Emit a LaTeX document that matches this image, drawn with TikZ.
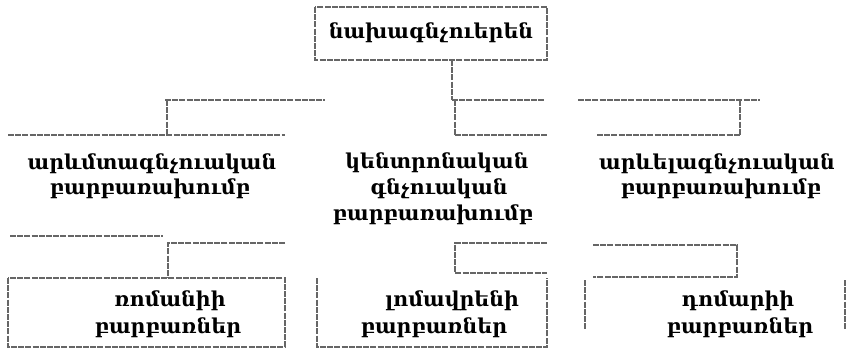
\documentclass[tikz,border=0pt]{standalone}
\usepackage{fontspec}
\setmainfont{DejaVu Serif}
\begin{document}
\begin{tikzpicture}[x=1pt,y=-1pt,
  hl/.style={draw=black!60, line width=2.4pt, dash pattern=on 6pt off 1.2pt},
  lbl/.style={font=\bfseries\fontsize{20.5}{24}\selectfont, inner sep=0pt, anchor=base}]
\useasboundingbox (0,0) rectangle (851,354);
% texts
\node[lbl] (top) at (431,38) {նախագնչուերեն};
\node[lbl] (w1) at (152,169) {արևմտագնչուական};
\node[lbl] (w2) at (150,194) {բարբառախումբ};
\node[lbl] (c1) at (437,168) {կենտրոնական};
\node[lbl] (c2) at (439,194) {գնչուական};
\node[lbl] (c3) at (433,220) {բարբառախումբ};
\node[lbl] (e1) at (717,169) {արևելագնչուական};
\node[lbl] (e2) at (721,194) {բարբառախումբ};
\node[lbl] (b1a) at (170,306) {ռոմանիի};
\node[lbl] (b1b) at (168,333) {բարբառներ};
\node[lbl] (b2a) at (452,306) {լոմավրենի};
\node[lbl] (b2b) at (434,333) {բարբառներ};
\node[lbl] (b3a) at (738,306) {դոմարիի};
\node[lbl] (b3b) at (740,333) {բարբառներ};
% top box
\draw[hl] (315,7) rectangle (547,60);
\draw[hl] (452,60) -- (452,100);
% bus
\draw[hl] (165,100) -- (325,100);
\draw[hl] (452,100) -- (545,100);
\draw[hl] (578,100) -- (760,100);
\draw[hl] (167,100) -- (167,135);
\draw[hl] (455,100) -- (455,135);
\draw[hl] (740,100) -- (740,135);
% middle boxes
\draw[hl] (8,135) -- (285,135);
\draw[hl] (455,135) -- (547,135);
\draw[hl] (597,135) -- (740,135);
\draw[hl] (10,236) -- (163,236);
% steps
\draw[hl] (285,243) -- (168,243) -- (168,278);
\draw[hl] (547,243) -- (455,243) -- (455,273) -- (547,273);
\draw[hl] (593,245) -- (737,245) -- (737,277) -- (593,277);
% bottom boxes
\draw[hl] (8,278) rectangle (285,347);
\draw[hl] (317,278) -- (317,347) -- (547,347) -- (547,278);
\draw[hl] (585,280) -- (585,330);
\draw[hl] (845,280) -- (845,330);
\end{tikzpicture}
\end{document}
